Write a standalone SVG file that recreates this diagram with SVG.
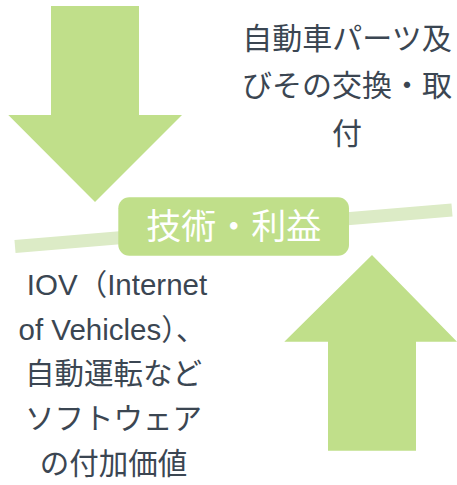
<svg xmlns="http://www.w3.org/2000/svg" width="457" height="485" viewBox="0 0 457 485">
<style>
.arrow{fill:#c0df8a}
.txt{font-family:"Liberation Sans","Noto Sans CJK JP",sans-serif;font-size:29.5px;fill:#3b4652;text-anchor:middle}
.lbl{font-family:"Noto Sans CJK JP",sans-serif;font-size:35px;fill:#ffffff;text-anchor:middle}
</style>
<rect width="457" height="485" fill="#ffffff"/>
<g id="connectors">
<line x1="15" y1="246.5" x2="452" y2="210" stroke="#dcebc6" stroke-width="13"/>
</g>
<g id="arrow-down">
<polygon class="arrow" points="51,6 139,6 139,115 182,115 95,202 8.3,115 51,115"/>
</g>
<g id="arrow-up">
<polygon class="arrow" points="372,255 457,341.7 416,341.7 416,450.7 328,450.7 328,341.7 284.3,341.7"/>
</g>
<g id="center-node">
<rect x="118.3" y="197.3" width="230.7" height="58.4" rx="11" fill="#c0df8a"/>
<text class="lbl" x="233.7" y="238.5">技術・利益</text>
</g>
<g id="top-text">
<text class="txt" x="347" y="49" style="font-size:30px">自動車パーツ及</text>
<text class="txt" x="347" y="96" style="font-size:30px">びその交換・取</text>
<text class="txt" x="347" y="144" style="font-size:30px">付</text>
</g>
<g id="bottom-text">
<text class="txt" x="117" y="295">IOV（Internet</text>
<text class="txt" x="112" y="340">of Vehicles）、</text>
<text class="txt" x="113.5" y="384">自動運転など</text>
<text class="txt" x="113.5" y="429">ソフトウェア</text>
<text class="txt" x="113.5" y="474">の付加価値</text>
</g>
</svg>
